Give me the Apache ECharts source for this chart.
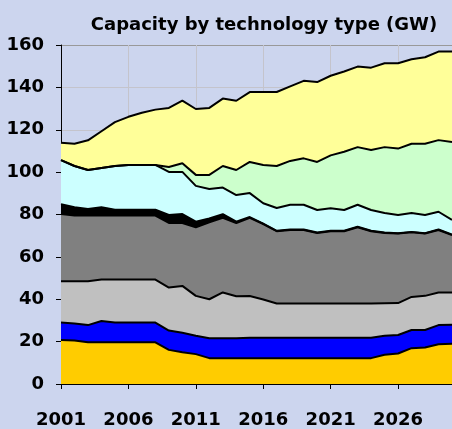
<!DOCTYPE html>
<html>
<head>
<meta charset="utf-8">
<script src="https://cdn.jsdelivr.net/npm/echarts@6/dist/echarts.min.js"></script>
<style>
  html, body { margin: 0; padding: 0; background: #ccd5ee; }
  #myCharts { width: 452px; height: 429px; }
</style>
</head>
<body>
<div id="myCharts"></div>
<script>
// 年份
var years = []
for (var y = 2001; y <= 2030; y++) years.push(String(y))

// 各技术类型装机容量 (GW)，自下而上堆叠
var goldData = [20.8, 20.5, 19.7, 19.7, 19.7, 19.7, 19.7, 19.7, 16.1, 15.0, 14.1, 12.2, 12.2, 12.2, 12.2, 12.2, 12.2, 12.2, 12.2, 12.2, 12.2, 12.2, 12.2, 12.2, 13.8, 14.4, 16.9, 17.2, 18.8, 19.0]
var blueData = [8.2, 8.1, 8.1, 10.0, 9.3, 9.3, 9.3, 9.3, 9.1, 9.2, 8.7, 9.4, 9.4, 9.4, 9.6, 9.6, 9.6, 9.6, 9.6, 9.6, 9.6, 9.6, 9.6, 9.6, 9.0, 8.7, 8.6, 8.3, 9.0, 9.0]
var lightGreyData = [19.5, 19.9, 20.7, 19.6, 20.3, 20.3, 20.3, 20.3, 20.3, 22.1, 18.8, 18.4, 21.6, 19.8, 19.7, 18.1, 16.2, 16.2, 16.2, 16.2, 16.2, 16.2, 16.2, 16.2, 15.3, 15.1, 15.6, 16.1, 15.4, 15.2]
var darkGreyData = [31.7, 31.0, 31.0, 30.2, 30.2, 30.2, 30.2, 30.2, 30.5, 29.7, 32.4, 36.3, 35.2, 34.5, 36.9, 35.6, 34.1, 34.7, 34.7, 33.3, 34.1, 34.1, 36.0, 34.1, 33.2, 32.8, 30.5, 29.4, 29.5, 27.1]
var blackData = [4.7, 3.9, 3.1, 3.9, 2.8, 2.8, 2.8, 2.8, 3.8, 4.2, 2.6, 1.8, 1.8, 0.7, 0.4, 0.2, 0.2, 0.2, 0.2, 0.2, 0.2, 0.2, 0.2, 0.2, 0.2, 0.2, 0.2, 0.2, 0.2, 0.2]
var cyanData = [20.8, 19.5, 18.4, 18.6, 20.6, 21.1, 21.1, 21.1, 20.3, 19.9, 16.9, 13.9, 12.5, 12.6, 11.3, 9.6, 10.8, 11.7, 11.7, 10.6, 10.6, 9.8, 10.4, 9.8, 9.2, 8.6, 8.9, 8.6, 8.4, 7.0]
var greenData = [0, 0, 0, 0, 0, 0, 0, 0, 2.3, 4.1, 5.2, 6.7, 10.2, 11.8, 14.7, 18.1, 19.8, 20.7, 21.9, 22.7, 25.0, 27.5, 27.2, 28.3, 31.1, 31.3, 32.7, 33.6, 33.8, 36.7]
var yellowData = [8.2, 10.5, 14.0, 17.3, 20.7, 22.7, 24.6, 26.1, 27.9, 29.5, 31.1, 31.6, 31.8, 32.7, 33.0, 34.4, 34.9, 35.2, 36.6, 37.7, 37.6, 37.9, 38.0, 38.9, 39.6, 40.3, 39.9, 40.8, 41.8, 42.7]

var layers = [
  { name: 'gold', data: goldData, color: '#ffcc00' },
  { name: 'blue', data: blueData, color: '#0000ff' },
  { name: 'lightgrey', data: lightGreyData, color: '#c0c0c0' },
  { name: 'darkgrey', data: darkGreyData, color: '#808080' },
  { name: 'black', data: blackData, color: '#000000' },
  { name: 'cyan', data: cyanData, color: '#ccffff' },
  { name: 'green', data: greenData, color: '#ccffcc' },
  { name: 'yellow', data: yellowData, color: '#ffff99' }
]

var myCharts = echarts.init(document.getElementById('myCharts'))
var fontBase = { fontFamily: 'DejaVu Sans', fontWeight: 'bold', color: '#000' }

var options = {
  backgroundColor: '#ccd5ee',
  animation: false,
  title: {
    text: 'Capacity by technology type (GW)',
    left: 259,
    top: 11,
    textAlign: 'center',
    textStyle: Object.assign({ fontSize: 18 }, fontBase)
  },
  grid: { left: 61, top: 45, right: -3, bottom: 43 },
  xAxis: {
    type: 'category',
    data: years,
    boundaryGap: false,
    axisLine: { lineStyle: { color: '#000', width: 1 } },
    axisTick: { interval: 4, length: 5, lineStyle: { color: '#000' } },
    axisLabel: Object.assign({ interval: 4, fontSize: 18, margin: 27 }, fontBase),
    splitLine: { show: true, interval: 4, lineStyle: { color: '#c4c4cc', width: 1 } }
  },
  yAxis: {
    type: 'value',
    min: 0,
    max: 160,
    interval: 20,
    axisLine: { show: true, lineStyle: { color: '#000', width: 1 } },
    axisTick: { show: true, length: 5, lineStyle: { color: '#000' } },
    axisLabel: Object.assign({ fontSize: 18, margin: 17 }, fontBase),
    splitLine: {
      lineStyle: {
        color: ['#c4c4cc', '#c4c4cc', '#c4c4cc', '#c4c4cc', '#c4c4cc', '#c4c4cc', '#c4c4cc', '#c4c4cc', '#999999'],
        width: 1
      }
    }
  },
  series: layers.map(function (l) {
    return {
      name: l.name,
      type: 'line',
      stack: 'total',
      data: l.data,
      symbol: 'none',
      lineStyle: { color: '#000', width: 2 },
      areaStyle: { color: l.color, opacity: 1 }
    }
  })
}
myCharts.setOption(options)
</script>
</body>
</html>
